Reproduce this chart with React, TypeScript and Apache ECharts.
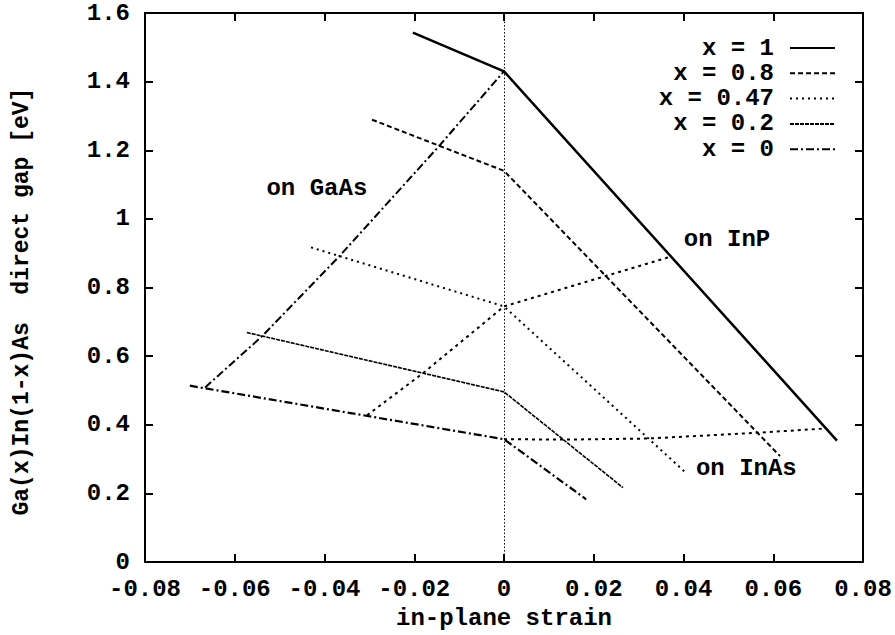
import React, { useEffect, useRef } from "react";
import * as echarts from "echarts";

// strain (x) vs direct gap (y) for each alloy composition
const seriesNames = ["x = 1", "x = 0.8", "x = 0.47", "x = 0.2", "x = 0"];
const x1: number[][] = [[-0.0203, 1.543], [0, 1.43], [0.0742, 0.354]];
const x08: number[][] = [[-0.0294, 1.289], [0, 1.14], [0.0615, 0.309]];
const x047: number[][] = [[-0.0430, 0.917], [0, 0.745], [0.0408, 0.257]];
const x02: number[][] = [[-0.0573, 0.669], [0, 0.496], [0.0265, 0.217]];
const x0: number[][] = [[-0.0700, 0.514], [0, 0.358], [0.0183, 0.183]];

// substrate loci
const onGaAs: number[][] = [[-0.0666, 0.509], [-0.054, 0.657], [-0.0365, 0.894], [-0.0147, 1.209], [0, 1.43]];
const onInP: number[][] = [[-0.0305, 0.428], [-0.018, 0.551], [0, 0.745], [0.023, 0.835], [0.0374, 0.891]];
const onInAs: number[][] = [[0, 0.358], [0.0136, 0.357], [0.032, 0.36], [0.0566, 0.377], [0.0711, 0.389]];

const annotations: { text: string; coord: number[] }[] = [
  { text: "on GaAs", coord: [-0.0417, 1.089] },
  { text: "on InP", coord: [0.0497, 0.94] },
  { text: "on InAs", coord: [0.054, 0.274] },
];

const xTicks = { min: -0.08, max: 0.08, interval: 0.02 };
const yTicks = { min: 0, max: 1.6, interval: 0.2 };

const FONT = "'Liberation Mono', 'DejaVu Sans Mono', monospace";
const FS = 24;

export default function App() {
  const ref = useRef<HTMLDivElement>(null);
  useEffect(() => {
    if (!ref.current) return;
    const chart = echarts.init(ref.current, undefined, { renderer: "svg" });
    const axisLine = { show: true, onZero: false, lineStyle: { color: "#000", width: 2 } };
    const tick = { show: true, inside: true, length: 8, lineStyle: { color: "#000", width: 2 } };
    const labelStyle = { color: "#000", fontFamily: FONT, fontSize: FS, fontWeight: "bold" as const };
    const fmtX = (v: number) => (Math.abs(v) < 1e-9 ? "0" : v.toFixed(2));
    const fmtY = (v: number) => String(Math.round(v * 10) / 10);

    const mk = (name: string, data: number[][], width: number, type: any, extra: any = {}) => ({
      name,
      type: "line",
      data,
      symbol: "none",
      showSymbol: false,
      lineStyle: { color: "#000", width, type },
      itemStyle: { color: "#000" },
      z: 3,
      ...extra,
    });

    const annoMark = (a: { text: string; coord: number[] }) => ({
      coord: a.coord,
      symbolSize: 0,
      label: {
        show: true,
        position: "inside",
        formatter: a.text,
        ...labelStyle,
      },
    });

    chart.setOption({
      animation: false,
      backgroundColor: "#fff",
      grid: { left: 145, right: 32, top: 13, bottom: 62, containLabel: false },
      legend: {
        data: seriesNames,
        orient: "vertical",
        right: 54,
        top: 31,
        align: "right",
        itemWidth: 45,
        itemHeight: 20,
        itemGap: 1.3,
        itemStyle: { opacity: 0 },
        textStyle: {
          ...labelStyle,
          rich: { a: { ...labelStyle, width: 130, align: "right", padding: [0, 11, 0, 0] } },
        },
        formatter: (n: string) => `{a|${n}}`,
      },
      xAxis: [
        {
          type: "value",
          ...xTicks,
          position: "bottom",
          axisLine,
          axisTick: tick,
          splitLine: { show: false },
          axisLabel: { ...labelStyle, margin: 15, formatter: fmtX },
          name: "in-plane strain",
          nameLocation: "middle",
          nameGap: 41,
          nameTextStyle: labelStyle,
        },
        {
          type: "value",
          ...xTicks,
          position: "top",
          axisLine,
          axisTick: tick,
          splitLine: { show: false },
          axisLabel: { show: false },
        },
      ],
      yAxis: [
        {
          type: "value",
          ...yTicks,
          position: "left",
          axisLine,
          axisTick: tick,
          splitLine: { show: false },
          axisLabel: { ...labelStyle, margin: 15, formatter: fmtY },
          name: "Ga(x)In(1-x)As  direct gap [eV]",
          nameLocation: "middle",
          nameGap: 112,
          nameTextStyle: { ...labelStyle, fontSize: 23, padding: [0, 28, 0, 0] },
        },
        {
          type: "value",
          ...yTicks,
          position: "right",
          axisLine,
          axisTick: tick,
          splitLine: { show: false },
          axisLabel: { show: false },
        },
      ],
      series: [
        mk("x = 1", x1, 2.5, "solid", {
          markLine: {
            silent: true,
            symbol: "none",
            label: { show: false },
            lineStyle: { color: "#000", width: 1, type: [1.5, 2] },
            data: [{ xAxis: 0 }],
          },
        }),
        mk("x = 0.8", x08, 2, [5, 3]),
        mk("x = 0.47", x047, 2, [2, 4]),
        mk("x = 0.2", x02, 1.6, [4, 1]),
        mk("x = 0", x0, 2.2, [8, 3, 2, 3]),
        mk("on GaAs", onGaAs, 2, [8, 3, 2, 3], {
          markPoint: { symbol: "circle", data: [annoMark(annotations[0])] },
        }),
        mk("on InP", onInP, 2, [3, 4], {
          markPoint: { symbol: "circle", data: [annoMark(annotations[1])] },
        }),
        mk("on InAs", onInAs, 2, [3, 4], {
          markPoint: { symbol: "circle", data: [annoMark(annotations[2])] },
        }),
      ],
    });
    return () => chart.dispose();
  }, []);
  return (
    <div
      ref={ref}
      style={{ position: "fixed", left: 0, top: 0, width: 895, height: 635 }}
    />
  );
}
